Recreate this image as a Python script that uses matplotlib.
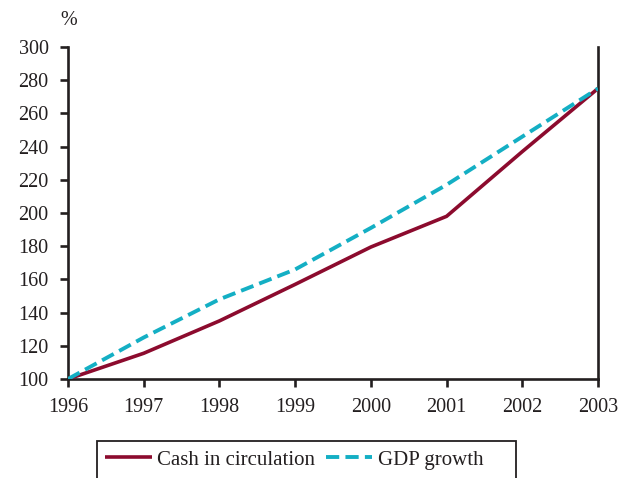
import matplotlib
matplotlib.use("Agg")
import matplotlib.pyplot as plt
from matplotlib.patches import Rectangle

years = [1996, 1997, 1998, 1999, 2000, 2001, 2002, 2003]
cash = [100, 115.5, 135, 157, 179.5, 198, 237, 275]
gdp = [100, 125, 148, 166, 191, 217, 246, 275]
yticks = list(range(100, 301, 20))

plt.rcParams['font.family'] = ['Liberation Serif', 'DejaVu Serif']
plt.rcParams['font.size'] = 14.5

INK = '#231F20'
fig = plt.figure(figsize=(6.26, 4.78), dpi=100)
ax = fig.add_axes([68/626, 1-379/478, (598-68)/626, (379-47)/478])

ax.plot(years, cash, color='#8C0B2E', lw=2.6, label='Cash in circulation', solid_capstyle='butt')
ax.plot(years, gdp, color='#14AFC4', lw=2.8, dashes=(3.4, 1.6), label='GDP growth')

ax.set_xlim(1996, 2003)
ax.set_ylim(100, 300)
ax.set_xticks(years)
ax.set_yticks(yticks)
ax.spines['top'].set_visible(False)
for s in ['left', 'bottom', 'right']:
    ax.spines[s].set_linewidth(1.9)
    ax.spines[s].set_color(INK)
    ax.spines[s].set_zorder(0.5)
ax.tick_params(axis='both', direction='out', length=6, width=1.9, color=INK,
               labelsize=14.5, labelcolor=INK)
ax.tick_params(axis='x', pad=8)
ax.tick_params(axis='y', pad=8)

ax.text(60/626, 1-25/478, '%', transform=fig.transFigure, ha='left', va='baseline',
        fontsize=14.5, color=INK)

leg = fig.legend(loc='upper left', bbox_to_anchor=(105/626, 1-450/478), ncol=2,
                 frameon=False, handlelength=2.25, handletextpad=0.25,
                 columnspacing=0.5, borderpad=0, borderaxespad=0, fontsize=15)
for t in leg.get_texts():
    t.set_color(INK)

fig.patches.append(Rectangle((97/626, -0.05), (516-97)/626, 0.05 + (478-441)/478,
                             transform=fig.transFigure, fill=False, edgecolor=INK,
                             linewidth=1.3))

fig.savefig('out.png', dpi=100)
